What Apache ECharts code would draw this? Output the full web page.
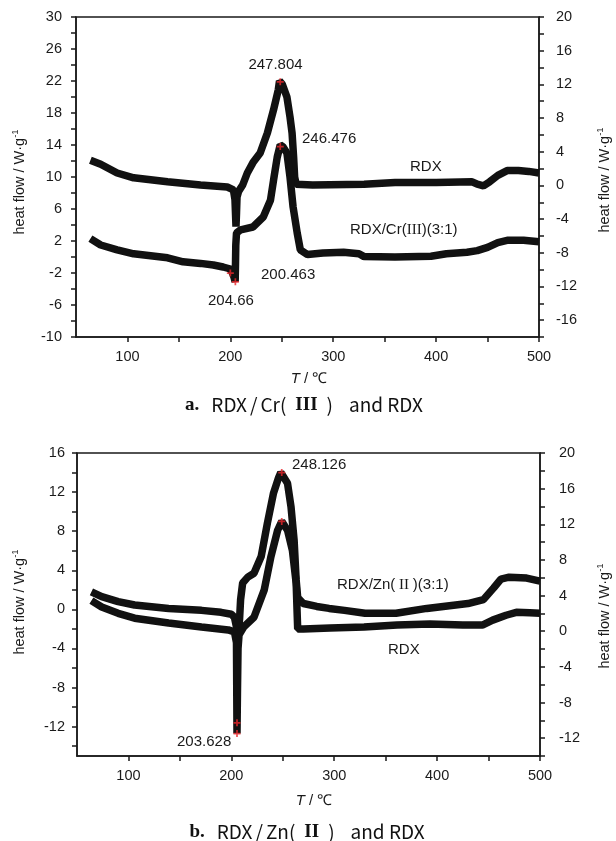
<!DOCTYPE html>
<html><head><meta charset="utf-8">
<script src="https://cdn.jsdelivr.net/npm/echarts@6/dist/echarts.min.js"></script>
<style>html,body{margin:0;padding:0;background:#fff}#c{width:616px;height:841px}</style>
</head><body><div id="c"></div>
<script>
// ---------- data ----------
const xLabelValues = [100, 200, 300, 400, 500];
const xTickValues = [100, 150, 200, 250, 300, 350, 400, 450, 500];

const aLeftLabels = [-10, -6, -2, 2, 6, 10, 14, 18, 22, 26, 30];
const aRightLabels = [-16, -12, -8, -4, 0, 4, 8, 12, 16, 20];
const bLeftLabels = [-12, -8, -4, 0, 4, 8, 12, 16];
const bRightLabels = [-12, -8, -4, 0, 4, 8, 12, 16, 20];

// chart a: RDX (upper curve)
const aRdxT = [64,74,90,106,139,171,197,203,204.5,205,205.5,206,206.5,208,212,216.5,222,229,236,242,246.6,247.8,250.5,255,258,260,261.5,262.5,264,280,330,360,400,435,440,446,452,460,469,480,490,500];
const aRdxV = [12.1,11.6,10.5,9.9,9.4,9.0,8.75,8.4,7.2,5.5,3.8,5.5,7.5,8.2,9.0,10.5,11.8,13,15.5,18.4,20.9,22,21.6,20,17.5,15.5,12.5,10,9.1,9.0,9.1,9.3,9.3,9.4,9.1,8.9,9.4,10.2,10.8,10.8,10.7,10.5];
// chart a: RDX/Cr(III)(3:1) (lower curve)
const aCrT = [64,74,90,106,139,154,171,183.5,193,200,202,203.5,204.7,205,205.3,206,210,222,232,239,242,245.6,248.5,251,255,258,261,265,268,275,290,310,325,330,360,395,410,430,440,450,460,470,485,500];
const aCrV = [2.3,1.5,0.9,0.4,-0.1,-0.6,-0.8,-1.0,-1.25,-1.5,-2.0,-2.5,-3.1,-1.0,1.5,3.0,3.4,3.75,5.0,7.1,9.6,12.5,14,13.8,13,10,6.25,3,0.9,0.3,0.5,0.6,0.4,0.05,0.0,0.1,0.4,0.6,0.8,1.2,1.8,2.1,2.1,1.9];
// chart a peak/onset markers
const aMarkT = [248.5, 248.5, 200, 204.9];
const aMarkV = [21.9, 13.8, -2.0, -3.1];

// chart b: RDX/Zn(II)(3:1)
const bZnT = [64,74,90,106,139,171,190,200,203,205,206,208,209,211,216,222,229,235,241,246,248.1,250,254.6,258,261,263,264.5,270,283,295,310,330,360,390,430,445,455,462,470,487,500];
const bZnV = [1.8,1.3,0.8,0.45,0.1,-0.1,-0.3,-0.5,-0.8,-1.8,-3.0,-1.0,1.0,2.7,3.3,3.7,5.4,8.8,11.9,13.5,14.0,13.8,12.9,10.5,7.1,3.0,1.2,0.6,0.3,0.1,-0.1,-0.4,-0.4,0.1,0.6,1.0,2.2,3.1,3.3,3.2,2.9];
// chart b: RDX
const bRdxT = [64,74,90,106,139,171,197,203,205,205.5,206,206.5,207.5,212,222,232,238.5,245,249,250.5,254.6,259.4,263,264,264.5,270,296,329,361,393,425,444,454,467,477,490,500];
const bRdxV = [0.9,0.25,-0.4,-0.9,-1.4,-1.8,-2.1,-2.3,-3.4,-12.7,-8,-4,-2.6,-1.8,-0.8,2.0,5.4,8.1,9.0,8.9,8.1,6.0,2.7,-0.5,-2.0,-2.0,-1.9,-1.8,-1.6,-1.5,-1.6,-1.6,-1.1,-0.6,-0.3,-0.35,-0.4];
// chart b markers
const bMarkT = [249, 249, 205.5, 205.5];
const bMarkV = [14.0, 9.0, -11.6, -12.7];

// ---------- helpers ----------
const zip = (xs, ys) => xs.map((x, i) => [x, ys[i]]);
const range = (a, b, s) => { const r = []; for (let v = a; v <= b + 1e-9; v += s) r.push(v); return r; };
const FONT = 'Liberation Sans, Arial, sans-serif';
const AX = '#1a1a1a';
const tickLabelStyle = { color: '#1a1a1a', fontSize: 14.5, fontFamily: FONT };
const plus = 'path://M3,0H5V3H8V5H5V8H3V5H0V3H3Z';

function xAxis(grid) {
  return {
    type: 'value', gridIndex: grid, min: 50, max: 500,
    axisLine: { show: true, onZero: false, lineStyle: { color: AX, width: 1.5 } },
    axisTick: { show: true, length: 5, customValues: xTickValues, lineStyle: { color: AX, width: 1.5 } },
    axisLabel: Object.assign({ customValues: xLabelValues, margin: 12 }, tickLabelStyle),
    splitLine: { show: false }
  };
}
function yAxis(grid, pos, min, max, labels, margin) {
  return {
    type: 'value', gridIndex: grid, position: pos, min: min, max: max,
    axisLine: { show: true, onZero: false, lineStyle: { color: AX, width: 1.5 } },
    axisTick: { show: true, length: 5, customValues: range(min % 2 === 0 ? min : min + 1, max, 2), lineStyle: { color: AX, width: 1.5 } },
    axisLabel: Object.assign({ customValues: labels, margin: margin }, tickLabelStyle),
    splitLine: { show: false }
  };
}
function curve(xi, yi, data) {
  return { type: 'line', xAxisIndex: xi, yAxisIndex: yi, data: data, showSymbol: false, symbol: 'none',
    lineStyle: { color: '#111', width: 7.5, cap: 'butt', join: 'bevel' }, z: 3, animation: false, silent: true };
}
function marks(xi, yi, data) {
  return { type: 'scatter', xAxisIndex: xi, yAxisIndex: yi, data: data, symbol: plus, symbolSize: 7,
    itemStyle: { color: '#e8262a' }, z: 5, animation: false, silent: true };
}
function txt(x, y, text, opts) {
  return Object.assign({ type: 'text', x: x, y: y, style: Object.assign({ text: text, fill: '#1a1a1a',
    font: '15px ' + FONT, align: 'left', verticalAlign: 'middle' }, opts || {}) });
}
const yNameRich = {
  a: { fontSize: 14.5, fontFamily: FONT, fill: '#1a1a1a', color: '#1a1a1a', lineHeight: 18 },
  s: { fontSize: 9.5, fontFamily: FONT, fill: '#1a1a1a', color: '#1a1a1a', lineHeight: 18, padding: [0, 0, 9, 0] }
};
function yName(x, y) {
  return { type: 'text', x: x, y: y, rotation: Math.PI / 2,
    style: { text: '{a|heat flow / W·g}{s|-1}', rich: yNameRich, align: 'center', verticalAlign: 'middle' } };
}
function xName(x, y) {
  return { type: 'text', x: x, y: y,
    style: { text: '{i|T}{a| / ℃}', align: 'center', verticalAlign: 'middle',
      rich: { i: { fontSize: 15, fontStyle: 'italic', fontFamily: FONT, fill: '#1a1a1a', color: '#1a1a1a' },
              a: { fontSize: 15, fontFamily: FONT, fill: '#1a1a1a', color: '#1a1a1a' } } } };
}
const CAP = 'Noto Sans CJK SC, Noto Sans, sans-serif';
const capRich = {
  b: { fontSize: 19, fontWeight: 'bold', fontFamily: 'Liberation Serif, serif', fill: '#111', color: '#111', padding: [0, 12, 0, 0] },
  t: { fontSize: 19, fontFamily: CAP, fill: '#111', color: '#111' },
  sl: { fontSize: 19, fontFamily: CAP, fill: '#111', color: '#111', padding: [0, 3, 0, 3] },
  po: { fontSize: 19, fontFamily: CAP, fill: '#111', color: '#111', padding: [0, 9, 0, 0] },
  pc: { fontSize: 19, fontFamily: CAP, fill: '#111', color: '#111', padding: [0, 16, 0, 9] },
  r: { fontSize: 19, fontWeight: 'bold', fontFamily: 'Liberation Serif, serif', fill: '#111', color: '#111' }
};
function caption(x, y, letter, metal, roman) {
  return { type: 'text', x: x, y: y,
    style: { text: '{b|' + letter + '}{t|RDX}{sl|/}{t|' + metal + '}{po|(}{r|' + roman + '}{pc|)}{t|and RDX}',
      align: 'center', verticalAlign: 'middle', rich: capRich } };
}
const romanRich = {
  n: { fontSize: 15, fontFamily: FONT, fill: '#1a1a1a', color: '#1a1a1a' },
  r: { fontSize: 15, fontFamily: 'Liberation Serif, serif', fill: '#1a1a1a', color: '#1a1a1a' }
};

const chart = echarts.init(document.getElementById('c'), null, { renderer: 'canvas' });
chart.setOption({
  animation: false,
  backgroundColor: '#fff',
  grid: [
    { left: 76, top: 17, width: 463, height: 320, show: true, borderColor: AX, borderWidth: 1.5, backgroundColor: 'transparent' },
    { left: 77, top: 453, width: 463, height: 303, show: true, borderColor: AX, borderWidth: 1.5, backgroundColor: 'transparent' }
  ],
  xAxis: [xAxis(0), xAxis(1)],
  yAxis: [
    yAxis(0, 'left', -10, 30, aLeftLabels, 14),
    yAxis(0, 'right', -18, 20, aRightLabels, 17),
    yAxis(1, 'left', -15, 16, bLeftLabels, 12),
    yAxis(1, 'right', -14, 20, bRightLabels, 19)
  ],
  series: [
    curve(0, 0, zip(aRdxT, aRdxV)),
    curve(0, 0, zip(aCrT, aCrV)),
    marks(0, 0, zip(aMarkT, aMarkV)),
    curve(1, 2, zip(bZnT, bZnV)),
    curve(1, 2, zip(bRdxT, bRdxV)),
    marks(1, 2, zip(bMarkT, bMarkV))
  ],
  graphic: [
    yName(20, 182), yName(605, 180), yName(20, 602), yName(605, 616),
    xName(309, 379), xName(314, 801),
    caption(304, 405, 'a.', 'Cr', 'III'),
    caption(307, 832, 'b.', 'Zn', 'II'),
    txt(275.5, 65, '247.804', { align: 'center' }),
    txt(302, 139, '246.476'),
    txt(261, 275, '200.463'),
    txt(208, 301, '204.66'),
    txt(410, 167, 'RDX'),
    { type: 'text', x: 350, y: 230, style: { text: '{n|RDX/Cr(}{r|III}{n|)(3:1)}', rich: romanRich, align: 'left', verticalAlign: 'middle' } },
    txt(292, 465, '248.126'),
    txt(177, 742, '203.628'),
    { type: 'text', x: 337, y: 585, style: { text: '{n|RDX/Zn(}{r| II }{n|)(3:1)}', rich: romanRich, align: 'left', verticalAlign: 'middle' } },
    txt(388, 650, 'RDX')
  ]
});
</script>
</body></html>
